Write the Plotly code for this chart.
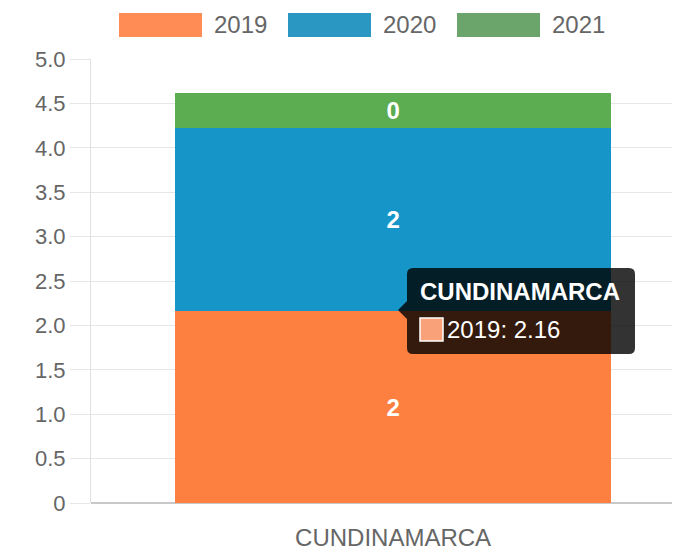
import plotly.graph_objects as go

categories = ["CUNDINAMARCA"]
series_names = ["2019", "2020", "2021"]
values_2019 = [2.16]
values_2020 = [2.06]
values_2021 = [0.40]
series_values = [values_2019, values_2020, values_2021]
bar_colors = ["#FE8040", "#1696C8", "#5CAC52"]
legend_colors = ["#FF8C55", "#2A97C2", "#6BA56B"]
y_tick_vals = [0, 0.5, 1.0, 1.5, 2.0, 2.5, 3.0, 3.5, 4.0, 4.5, 5.0]
y_tick_text = ["0", "0.5", "1.0", "1.5", "2.0", "2.5", "3.0", "3.5", "4.0", "4.5", "5.0"]
tooltip_series = 0
tooltip_category = 0

# the page body adds an 8px offset; compensate so the plot lands where the reference has it
OFF = 8
W, H = 680, 552
L, T = 91 - OFF, 59 - OFF
PW, PH = 680 - 91, 503 - 59
R = W - L - PW
B = H - T - PH
FONT = "Liberation Sans, Arial, sans-serif"


def px_x(px):
    return (px - OFF - L) / PW


def px_y(py):
    return (T + PH - (py - OFF)) / PH


fig = go.Figure()
for name, vals, col in zip(series_names, series_values, bar_colors):
    fig.add_trace(go.Bar(
        x=categories, y=vals, name=name, marker=dict(color=col, line=dict(width=0)),
        width=0.722, texttemplate="%{y:.0f}", textposition="inside",
        insidetextanchor="middle", textangle=0,
        textfont=dict(color="white", size=24, family=FONT, weight="bold"),
        hovertemplate="%{x}<br>" + name + ": %{y}<extra></extra>",
    ))

shapes = []
annotations = []

# custom legend (wide colour boxes like the reference)
box_left = [119, 288, 457]
for i, (name, col) in enumerate(zip(series_names, legend_colors)):
    x0 = box_left[i]
    shapes.append(dict(type="rect", xref="paper", yref="paper",
                       x0=px_x(x0), x1=px_x(x0 + 83), y0=px_y(37), y1=px_y(13),
                       fillcolor=col, line=dict(width=0)))
    annotations.append(dict(xref="paper", yref="paper", x=px_x(x0 + 93), y=px_y(24),
                            xanchor="left", yanchor="middle", showarrow=False,
                            text=name, font=dict(size=24, color="#666666", family=FONT)))

# tooltip (static, as in the screenshot)
bx0, bx1, by0, by1, rr = 407, 635, 268, 354, 6
tip_x, tip_y = 398, 310
pts = [
    f"M {px_x(bx0 + rr)},{px_y(by0)}",
    f"L {px_x(bx1 - rr)},{px_y(by0)}",
    f"Q {px_x(bx1)},{px_y(by0)} {px_x(bx1)},{px_y(by0 + rr)}",
    f"L {px_x(bx1)},{px_y(by1 - rr)}",
    f"Q {px_x(bx1)},{px_y(by1)} {px_x(bx1 - rr)},{px_y(by1)}",
    f"L {px_x(bx0 + rr)},{px_y(by1)}",
    f"Q {px_x(bx0)},{px_y(by1)} {px_x(bx0)},{px_y(by1 - rr)}",
    f"L {px_x(bx0)},{px_y(tip_y + 9)}",
    f"L {px_x(tip_x)},{px_y(tip_y)}",
    f"L {px_x(bx0)},{px_y(tip_y - 9)}",
    f"L {px_x(bx0)},{px_y(by0 + rr)}",
    f"Q {px_x(bx0)},{px_y(by0)} {px_x(bx0 + rr)},{px_y(by0)}",
    "Z",
]
shapes.append(dict(type="path", xref="paper", yref="paper", path=" ".join(pts),
                   fillcolor="rgba(0,0,0,0.8)", line=dict(width=0), layer="above"))
shapes.append(dict(type="rect", xref="paper", yref="paper",
                   x0=px_x(420), x1=px_x(443), y0=px_y(341), y1=px_y(318),
                   fillcolor="#F9A27A", line=dict(color="white", width=1.5), layer="above"))
annotations.append(dict(xref="paper", yref="paper", x=px_x(418), y=px_y(291),
                        xanchor="left", yanchor="middle", showarrow=False,
                        text="<b>" + categories[tooltip_category] + "</b>",
                        font=dict(size=24, color="white", family=FONT)))
annotations.append(dict(xref="paper", yref="paper", x=px_x(445), y=px_y(329),
                        xanchor="left", yanchor="middle", showarrow=False,
                        text=f"{series_names[tooltip_series]}: {series_values[tooltip_series][tooltip_category]:.2f}",
                        font=dict(size=24, color="white", family=FONT)))

fig.update_layout(
    width=W, height=H,
    margin=dict(l=L, r=R, t=T, b=B),
    barmode="stack",
    showlegend=False,
    plot_bgcolor="white", paper_bgcolor="white",
    font=dict(family=FONT, color="#666666"),
    shapes=shapes, annotations=annotations,
    xaxis=dict(range=[-0.5, 0.475], showgrid=False, showline=False, ticks="",
               tickfont=dict(size=24, color="#666666"), ticklabelstandoff=18),
    yaxis=dict(range=[0, 5], tickvals=y_tick_vals, ticktext=y_tick_text,
               showgrid=True, gridcolor="#e6e6e6", gridwidth=1,
               zeroline=True, zerolinecolor="#c8c8c8", zerolinewidth=1.5,
               showline=True, linecolor="#e0e0e0", linewidth=1,
               ticks="outside", ticklen=20, tickcolor="#e6e6e6",
               tickfont=dict(size=22, color="#666666")),
)

fig.write_html("out.html")
